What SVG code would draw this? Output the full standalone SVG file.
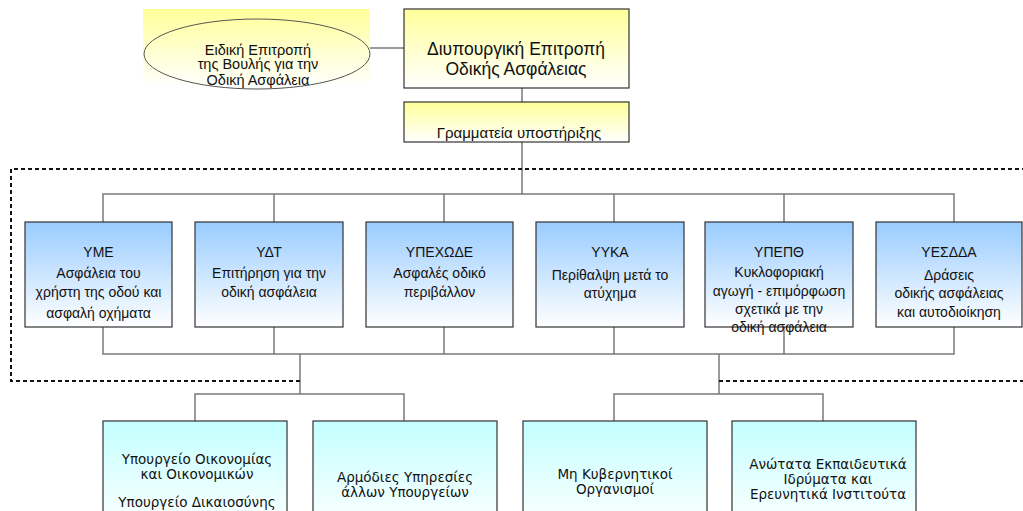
<svg xmlns="http://www.w3.org/2000/svg" width="1023" height="511" viewBox="0 0 1023 511">
<style>
.box{stroke:#333;stroke-width:1.2}
.conn{fill:none;stroke:#7a7a7a;stroke-width:1.5}
.dash{fill:none;stroke:#111;stroke-width:2;stroke-dasharray:4 3}
.t{font-family:"Liberation Sans",Arial,sans-serif;fill:#111;text-anchor:middle}
.v{font-family:"DejaVu Sans",Verdana,sans-serif;fill:#111;text-anchor:middle;font-size:13.5px}
.b{font-size:14px}
</style>
<defs>
<linearGradient id="gy" x1="0" y1="0" x2="0" y2="1"><stop offset="0" stop-color="#FFFF99"/><stop offset="1" stop-color="#FFFFFF"/></linearGradient>
<linearGradient id="gb" x1="0" y1="0" x2="0" y2="1"><stop offset="0" stop-color="#99CCFF"/><stop offset="1" stop-color="#FFFFFF"/></linearGradient>
<linearGradient id="gc" x1="0" y1="0" x2="0" y2="1"><stop offset="0" stop-color="#C4FFFF"/><stop offset="1" stop-color="#FFFFFF"/></linearGradient>
</defs>
<rect width="1023" height="511" fill="#fff"/>
<g id="connectors">
<path class="conn" d="M370 48 H404"/>
<path class="conn" d="M522 88 V102 M522 142 V194"/>
<path class="conn" d="M103 222 V194 H954 V222 M274 194 V222 M444 194 V222 M614 194 V222 M784 194 V222"/>
<path class="conn" d="M103 327 V354 H954 V327 M274 327 V354 M444 327 V354 M614 327 V354 M784 327 V354"/>
<path class="conn" d="M300 354 V394 M195 421 V394 H404 V421"/>
<path class="conn" d="M719 354 V394 M614 421 V394 H823 V421"/>
</g>
<path class="dash" d="M300 381 H11 V169 H1030 M719 381 H1030"/>
<g id="parliament">
<rect x="143" y="9" width="227" height="78" fill="url(#gy)"/>
<ellipse cx="257" cy="54" rx="113" ry="35" fill="none" stroke="#555" stroke-width="1"/>
<text class="t" font-size="14.5" x="258" y="55">Ειδική Επιτροπή</text>
<text class="t" font-size="14.5" x="258" y="69">της Βουλής για την</text>
<text class="t" font-size="14.5" x="258" y="85">Οδική Ασφάλεια</text>
</g>
<g id="committee">
<rect class="box" x="404" y="9" width="225" height="79" fill="url(#gy)"/>
<text class="t" font-size="17.5" x="516" y="55">Διυπουργική Επιτροπή</text>
<text class="t" font-size="17.5" x="516" y="75">Οδικής Ασφάλειας</text>
</g>
<g id="secretariat">
<rect class="box" x="404" y="102" width="225" height="40" fill="url(#gy)"/>
<text class="t" font-size="15" x="519" y="138">Γραμματεία υποστήριξης</text>
</g>
<g id="yme">
<rect class="box" x="25" y="222" width="147" height="105" fill="url(#gb)"/>
<text class="t b" x="98.5" y="257">ΥΜΕ</text>
<text class="t b" x="98.5" y="278">Ασφάλεια του</text>
<text class="t b" x="98.5" y="297">χρήστη της οδού και</text>
<text class="t b" x="98.5" y="318">ασφαλή οχήματα</text>
</g>
<g id="ydt">
<rect class="box" x="195" y="222" width="148" height="105" fill="url(#gb)"/>
<text class="t b" x="269" y="257">ΥΔΤ</text>
<text class="t b" x="269" y="278">Επιτήρηση για την</text>
<text class="t b" x="269" y="297">οδική ασφάλεια</text>
</g>
<g id="ypexode">
<rect class="box" x="366" y="222" width="147" height="105" fill="url(#gb)"/>
<text class="t b" x="439.5" y="257">ΥΠΕΧΩΔΕ</text>
<text class="t b" x="439.5" y="278">Ασφαλές οδικό</text>
<text class="t b" x="439.5" y="297">περιβάλλον</text>
</g>
<g id="yyka">
<rect class="box" x="536" y="222" width="148" height="105" fill="url(#gb)"/>
<text class="t b" x="610" y="257">ΥΥΚΑ</text>
<text class="t b" x="610" y="280">Περίθαλψη μετά το</text>
<text class="t b" x="610" y="298">ατύχημα</text>
</g>
<g id="ypepth">
<rect class="box" x="705" y="222" width="148" height="105" fill="url(#gb)"/>
<text class="t b" x="779" y="257">ΥΠΕΠΘ</text>
<text class="t b" x="779" y="277">Κυκλοφοριακή</text>
<text class="t b" x="779" y="296">αγωγή - επιμόρφωση</text>
<text class="t b" x="779" y="314">σχετικά με την</text>
<text class="t b" x="779" y="332">οδική ασφάλεια</text>
</g>
<g id="yesdda">
<rect class="box" x="876" y="222" width="146" height="105" fill="url(#gb)"/>
<text class="t b" x="949" y="257">ΥΕΣΔΔΑ</text>
<text class="t b" x="949" y="280">Δράσεις</text>
<text class="t b" x="949" y="298">οδικής ασφάλειας</text>
<text class="t b" x="949" y="317">και αυτοδιοίκηση</text>
</g>
<g id="ministries">
<rect class="box" x="103" y="421" width="184" height="110" fill="url(#gc)"/>
<text class="v" x="197" y="464">Υπουργείο Οικονομίας</text>
<text class="v" x="197" y="479">και Οικονομικών</text>
<text class="v" x="197" y="507">Υπουργείο Δικαιοσύνης</text>
</g>
<g id="other-services">
<rect class="box" x="313" y="421" width="184" height="110" fill="url(#gc)"/>
<text class="v" x="405" y="482">Αρμόδιες Υπηρεσίες</text>
<text class="v" x="405" y="497">άλλων Υπουργείων</text>
</g>
<g id="ngo">
<rect class="box" x="523" y="421" width="184" height="110" fill="url(#gc)"/>
<text class="v" x="615" y="479">Μη Κυβερνητικοί</text>
<text class="v" x="615" y="494">Οργανισμοί</text>
</g>
<g id="universities">
<rect class="box" x="732" y="421" width="184" height="110" fill="url(#gc)"/>
<text class="v" x="828" y="469">Ανώτατα Εκπαιδευτικά</text>
<text class="v" x="828" y="484">Ιδρύματα και</text>
<text class="v" x="828" y="499">Ερευνητικά Ινστιτούτα</text>
</g>
</svg>
